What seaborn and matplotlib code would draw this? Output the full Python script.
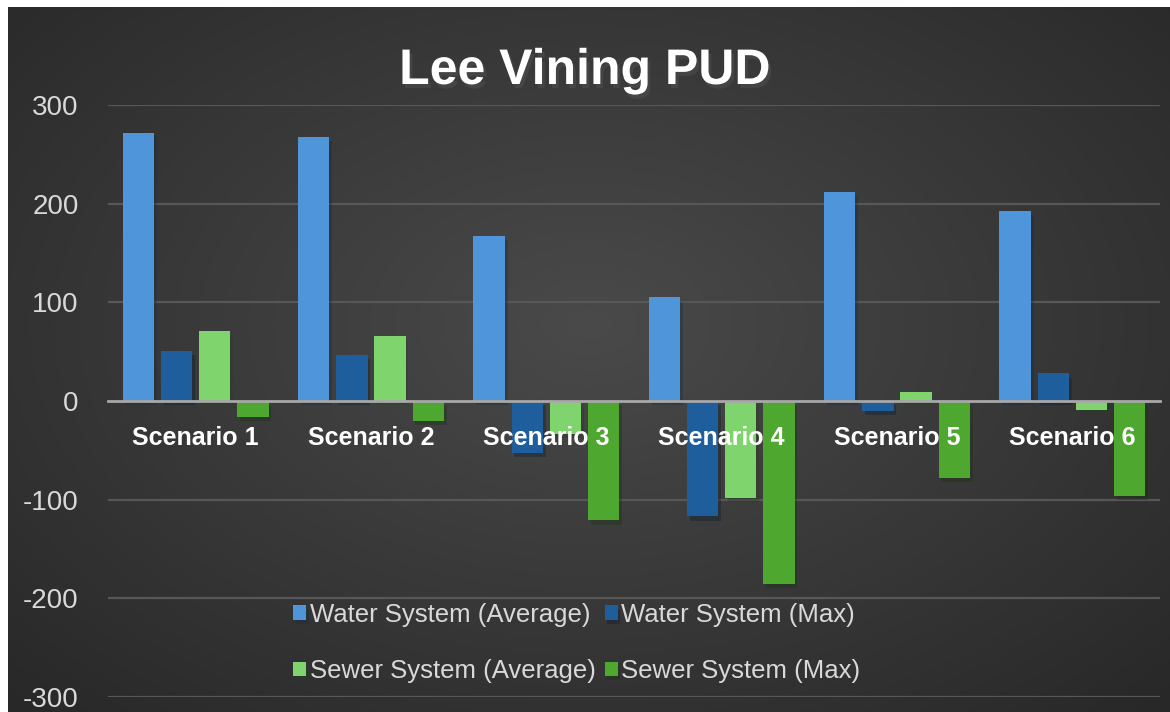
import numpy as np
import pandas as pd
import matplotlib
matplotlib.use("Agg")
import matplotlib.pyplot as plt
import matplotlib.patheffects as pe
import seaborn as sns

# values
scenarios = ["Scenario 1", "Scenario 2", "Scenario 3", "Scenario 4", "Scenario 5", "Scenario 6"]
water_avg = [272, 268, 167, 105, 212, 193]
water_max = [51, 47, -53, -117, -10, 28]
sewer_avg = [71, 66, -33, -98, 9, -9]
sewer_max = [-16, -20, -121, -185, -78, -96]

series_names = ["Water System (Average)", "Water System (Max)",
                "Sewer System (Average)", "Sewer System (Max)"]
colors = ["#4e95d9", "#1f5e9c", "#80d46d", "#4ea72e"]
y_ticks = [-300, -200, -100, 0, 100, 200, 300]

rows = []
for name, vals in zip(series_names, [water_avg, water_max, sewer_avg, sewer_max]):
    for sc, v in zip(scenarios, vals):
        rows.append({"scenario": sc, "series": name, "value": v})
df = pd.DataFrame(rows)

sns.set_theme(style="white")
plt.rcParams['font.family'] = ['Liberation Sans', 'DejaVu Sans']
plt.rcParams['axes.unicode_minus'] = False

W, H = 1170, 712
fig = plt.figure(figsize=(W / 100, H / 100), dpi=100, facecolor="white")

# dark radial background, white strip at top and left like the screenshot
bg = fig.add_axes([8 / W, 0, 1 - 8 / W, 1 - 7 / H])
yy, xx = np.mgrid[0:1:300j, 0:1:500j]
r = np.sqrt(((xx - 0.5) / 0.75) ** 2 + ((yy - 0.45) / 0.8) ** 2)
shade = np.clip(0.29 - 0.14 * r, 0.16, 0.3)
bg.imshow(np.dstack([shade] * 3), aspect="auto", extent=[0, 1, 0, 1], interpolation="bicubic")
bg.set_axis_off()

ax = fig.add_axes([108 / W, 1 - 697 / H, (1160 - 108) / W, (697 - 105) / H])
ax.set_facecolor("none")

sns.barplot(data=df, x="scenario", y="value", hue="series", palette=colors,
            width=0.87, gap=0.18, ax=ax, saturation=1, errorbar=None,
            edgecolor="none", linewidth=0)

for p in ax.patches:
    p.set_path_effects([pe.SimplePatchShadow(offset=(2, -3), alpha=0.35), pe.Normal()])

ax.set_ylim(-300, 300)
ax.set_xlim(-0.5, 5.5)
ax.set_yticks(y_ticks)
for t in y_ticks:
    if t != 0:
        ax.axhline(t, color="#575757", lw=1.6, zorder=0.5)
ax.set_axisbelow(False)

for s in ["top", "right", "left"]:
    ax.spines[s].set_visible(False)
ax.spines["bottom"].set_position(("data", 0))
ax.spines["bottom"].set_color("#a8a8a8")
ax.spines["bottom"].set_linewidth(2)

ax.tick_params(axis="y", length=0, pad=21, labelsize=20, labelcolor="#d9d9d9")
ax.tick_params(axis="x", length=0, pad=18)
for lbl in ax.get_xticklabels():
    lbl.set_fontweight("bold")
    lbl.set_fontsize(18)
    lbl.set_color("white")
ax.set_xlabel("")
ax.set_ylabel("")

handles, labels = ax.get_legend_handles_labels()
ax.get_legend().remove()
order = [0, 2, 1, 3]  # legend fills by column; this gives rows Water / Sewer
leg = fig.legend([handles[i] for i in order], [labels[i] for i in order],
                 loc="center", bbox_to_anchor=(0.493, 0.097), ncol=2,
                 frameon=False, prop={"size": 18.5},
                 handlelength=0.5, handleheight=0.5, handletextpad=0.15,
                 columnspacing=0.35, labelspacing=1.25)
for t in leg.get_texts():
    t.set_color("#d9d9d9")

fig.text(0.5, 1 - 71 / H, "Lee Vining PUD", ha="center", va="center",
         fontsize=36, fontweight="bold", color="white",
         path_effects=[pe.SimplePatchShadow(offset=(2, -3), alpha=0.6), pe.Normal()])

fig.savefig("out.png", dpi=100, facecolor="white")
